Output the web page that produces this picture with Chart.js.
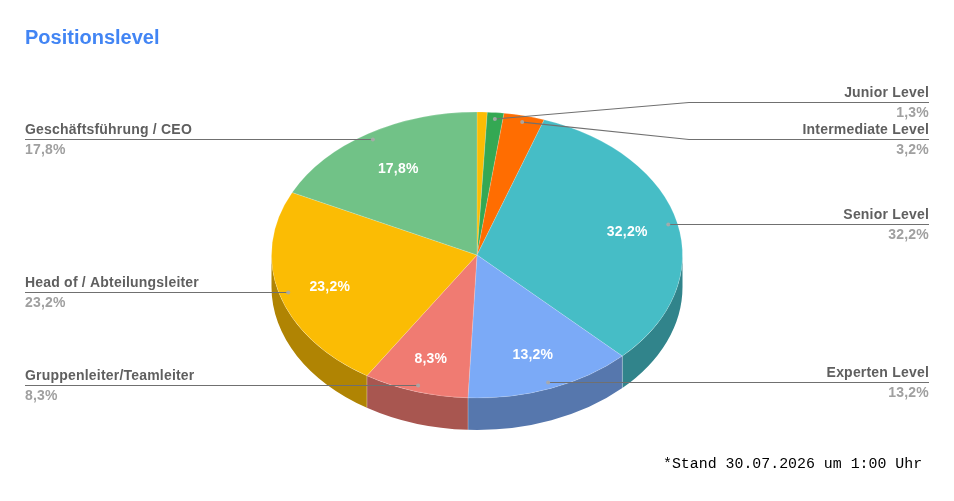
<!DOCTYPE html>
<html>
<head>
<meta charset="utf-8">
<style>
  html, body { margin: 0; padding: 0; background: #fff; }
  canvas { display: block; }
</style>
<script src="https://cdn.jsdelivr.net/npm/chart.js@4"></script>
</head>
<body>
<canvas id="myChart" width="954" height="501"></canvas>
<script>
// Slices, clockwise from twelve o'clock
const categories = ["", "Junior Level", "Intermediate Level", "Senior Level", "Experten Level",
  "Gruppenleiter/Teamleiter", "Head of / Abteilungsleiter", "Geschäftsführung / CEO"];
const shares = [0.8, 1.3, 3.2, 32.2, 13.2, 8.3, 23.2, 17.8];
const sliceColors = ["#fbbc04", "#34a853", "#ff6d01", "#46bdc6", "#7baaf7", "#f07b72", "#fbbc04", "#71c287"];

// Chart furniture
const titleText = "Positionslevel";
const footerText = "*Stand 30.07.2026 um 1:00 Uhr";
const leaderY = [null, 102, 139, 224, 382, 385, 292, 139];
const elbowX = [null, 689, 689, null, null, null, null, null];
const labelNudgeX = [0, 0, 0, 0, 0, 0, 1, 3];
const labelNudgeY = [0, 0, 0, 1, 0, 0, 0, 1];

const SQUASH = 143 / 205.5; // flattens the pie into the 3D ellipse
const DEPTH = 32;
const LEFT_X = 25;
const RIGHT_X = 929;

const fmt = (v) => v.toFixed(1).replace(".", ",") + "%";

// Darkens a hex colour for the side wall
const shade = (hex, f) => {
  const n = parseInt(hex.slice(1), 16);
  return `rgb(${Math.round((n >> 16) * f)}, ${Math.round(((n >> 8) & 255) * f)}, ${Math.round((n & 255) * f)})`;
};

const pie3d = {
  id: "pie3d",
  beforeDatasetsDraw(chart) {
    const { ctx } = chart;
    const arcs = chart.getDatasetMeta(0).data;
    // side wall, only the front half can be seen
    arcs.forEach((arc, i) => {
      const s = Math.max(arc.startAngle, 0);
      const e = Math.min(arc.endAngle, Math.PI);
      if (e <= s) return;
      const rx = arc.outerRadius;
      const ry = rx * SQUASH;
      ctx.beginPath();
      ctx.ellipse(arc.x, arc.y, rx, ry, 0, s, e);
      ctx.ellipse(arc.x, arc.y + DEPTH, rx, ry, 0, e, s, true);
      ctx.closePath();
      ctx.fillStyle = shade(sliceColors[i], 0.7);
      ctx.fill();
      // light seam at the front edges of the wall
      ctx.strokeStyle = "rgba(255, 255, 255, 0.2)";
      ctx.lineWidth = 1;
      [s, e].forEach((a) => {
        if (a <= 0 || a >= Math.PI) return;
        const x = arc.x + rx * Math.cos(a);
        const y = arc.y + ry * Math.sin(a);
        ctx.beginPath();
        ctx.moveTo(x, y);
        ctx.lineTo(x, y + DEPTH);
        ctx.stroke();
      });
    });
    // top face is drawn by the library inside this transform
    const cy = arcs[0].y;
    ctx.save();
    ctx.translate(0, cy);
    ctx.scale(1, SQUASH);
    ctx.translate(0, -cy);
  },
  afterDatasetsDraw(chart) {
    const { ctx } = chart;
    ctx.restore();
    const arcs = chart.getDatasetMeta(0).data;

    // point on the squashed pie at a given radius fraction, along the slice's mid angle
    const at = (arc, frac) => {
      const mid = (arc.startAngle + arc.endAngle) / 2;
      return {
        x: arc.x + Math.cos(mid) * arc.outerRadius * frac,
        y: arc.y + Math.sin(mid) * arc.outerRadius * frac * SQUASH,
      };
    };

    ctx.save();
    arcs.forEach((arc, i) => {
      if (leaderY[i] === null) return;
      const mid = (arc.startAngle + arc.endAngle) / 2;
      const onRight = Math.cos(mid) > 0;
      const end = onRight ? RIGHT_X : LEFT_X;
      const dot = at(arc, 0.955);
      const hasElbow = elbowX[i] !== null;
      const dotY = hasElbow ? dot.y : leaderY[i] + 0.5;

      // leader line
      ctx.strokeStyle = "#707070";
      ctx.lineWidth = 1.1;
      ctx.beginPath();
      ctx.moveTo(dot.x, dotY);
      if (hasElbow) ctx.lineTo(elbowX[i], leaderY[i] + 0.5);
      ctx.lineTo(end, leaderY[i] + 0.5);
      ctx.stroke();
      ctx.fillStyle = "rgba(170, 170, 170, 0.9)";
      ctx.beginPath();
      ctx.arc(dot.x, dotY, 2, 0, Math.PI * 2);
      ctx.fill();

      // outside label
      ctx.textAlign = onRight ? "right" : "left";
      ctx.textBaseline = "alphabetic";
      ctx.font = "bold 14px 'Liberation Sans', Arial, sans-serif";
      ctx.letterSpacing = "0.2px";
      ctx.fillStyle = "#5f5f5f";
      ctx.fillText(categories[i], end, leaderY[i] - 5);
      ctx.fillStyle = "#a0a0a0";
      ctx.fillText(fmt(shares[i]), end, leaderY[i] + 15);

      // label on the slice
      if (shares[i] > 5) {
        const p = at(arc, 0.75);
        ctx.textAlign = "center";
        ctx.textBaseline = "middle";
        ctx.fillStyle = "#ffffff";
        ctx.fillText(fmt(shares[i]), p.x + labelNudgeX[i], p.y + labelNudgeY[i] + (i >= 5 ? i - 3 : 0));
      }
    });

    ctx.letterSpacing = "0px";
    ctx.textAlign = "left";
    ctx.textBaseline = "alphabetic";
    ctx.fillStyle = "#4285f4";
    ctx.font = "bold 20px 'Liberation Sans', Arial, sans-serif";
    ctx.fillText(titleText, 25, 44);

    ctx.fillStyle = "#000000";
    ctx.font = "14.9px 'Liberation Mono', monospace";
    ctx.fillText(footerText, 663, 468);
    ctx.restore();
  },
};

new Chart(document.getElementById("myChart"), {
  type: "pie",
  data: {
    labels: categories,
    datasets: [
      {
        data: shares,
        backgroundColor: sliceColors,
        borderColor: "rgba(255, 255, 255, 0.2)",
        borderWidth: 1,
        clip: false,
      },
    ],
  },
  options: {
    responsive: false,
    animation: false,
    layout: { padding: { top: 49, bottom: 40, left: 0, right: 0 } },
    plugins: {
      legend: { display: false },
      tooltip: { enabled: false },
    },
  },
  plugins: [pie3d],
});
</script>
</body>
</html>
